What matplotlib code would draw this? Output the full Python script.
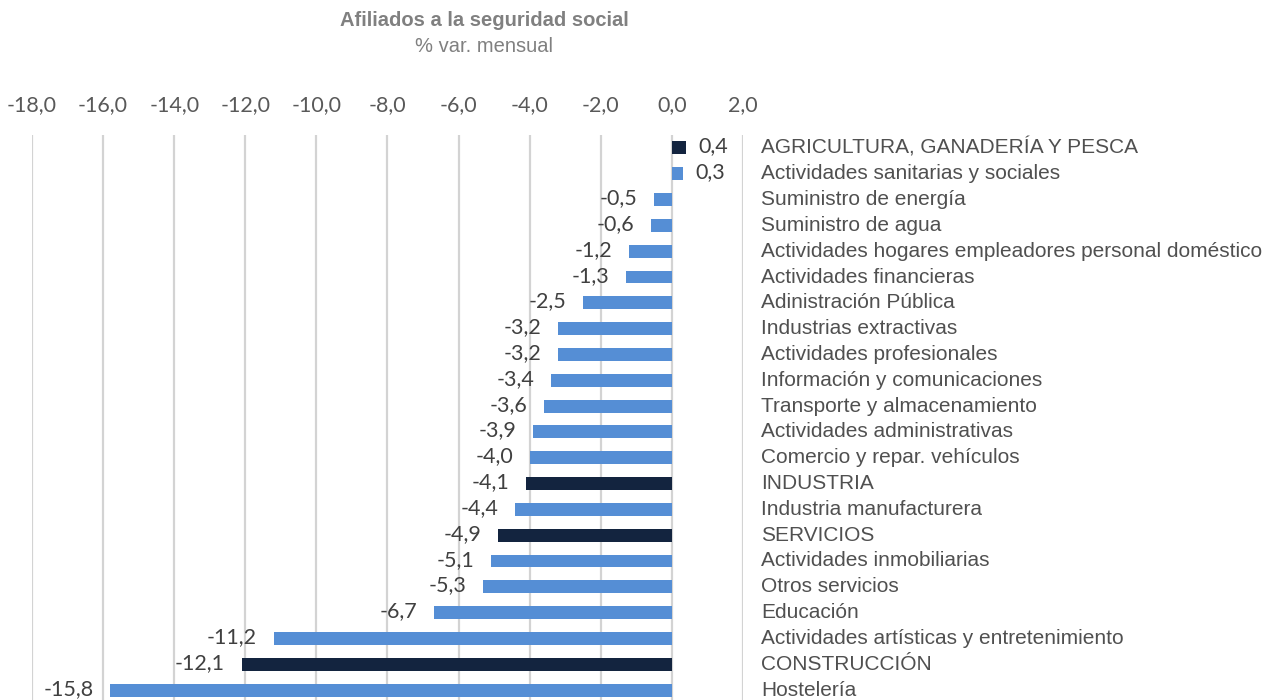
import matplotlib
matplotlib.use("Agg")
import matplotlib.pyplot as plt
import matplotlib.transforms as mtransforms

# Data, top to bottom as in the chart
categories = [
    "AGRICULTURA, GANADERÍA Y PESCA",
    "Actividades sanitarias y sociales",
    "Suministro de energía",
    "Suministro de agua",
    "Actividades hogares empleadores personal doméstico",
    "Actividades financieras",
    "Adinistración Pública",
    "Industrias extractivas",
    "Actividades profesionales",
    "Información y comunicaciones",
    "Transporte y almacenamiento",
    "Actividades administrativas",
    "Comercio y repar. vehículos",
    "INDUSTRIA",
    "Industria manufacturera",
    "SERVICIOS",
    "Actividades inmobiliarias",
    "Otros servicios",
    "Educación",
    "Actividades artísticas y entretenimiento",
    "CONSTRUCCIÓN",
    "Hostelería",
]
values = [0.4, 0.3, -0.5, -0.6, -1.2, -1.3, -2.5, -3.2, -3.2, -3.4, -3.6,
          -3.9, -4.0, -4.1, -4.4, -4.9, -5.1, -5.3, -6.7, -11.2, -12.1, -15.8]
sectors = ["AGRICULTURA, GANADERÍA Y PESCA", "INDUSTRIA", "SERVICIOS", "CONSTRUCCIÓN"]
xticks = [-18, -16, -14, -12, -10, -8, -6, -4, -2, 0, 2]

navy = "#13243f"
blue = "#558ed5"
num_font = "Lato"
txt_font = "Liberation Sans"

fig = plt.figure(figsize=(12.87, 7), dpi=100)
ax = fig.add_axes([32 / 1287, -3 / 700, 711 / 1287, 568 / 700])

ypos = list(range(len(categories)))
colors = [navy if c in sectors else blue for c in categories]
ax.barh(ypos, values, height=0.5, color=colors, zorder=3)

ax.set_xlim(-18, 2)
ax.set_ylim(len(categories) - 0.5, -0.5)
ax.set_xticks(xticks)
ax.set_xticklabels([f"{t:.1f}".replace(".", ",") for t in xticks],
                   fontfamily=num_font, fontsize=15.5, color="#595959")
ax.xaxis.tick_top()
ax.tick_params(axis="x", length=0, pad=14)
ax.set_yticks([])
ax.grid(axis="x", color="#d3d3d3", linewidth=1.6, zorder=0)
for s in ax.spines.values():
    s.set_visible(False)

# value labels
for y, v in zip(ypos, values):
    lab = f"{v:.1f}".replace(".", ",")
    if v < 0:
        ax.annotate(lab, (v, y), xytext=(-12, 1), textcoords="offset points",
                    ha="right", va="center", fontfamily=num_font,
                    fontsize=15.5, color="#404040", zorder=4)
    else:
        ax.annotate(lab, (v, y), xytext=(9, 1), textcoords="offset points",
                    ha="left", va="center", fontfamily=num_font,
                    fontsize=15.5, color="#404040", zorder=4)

# category labels to the right of the plot
trans = mtransforms.blended_transform_factory(ax.transAxes, ax.transData)
for y, c in zip(ypos, categories):
    ax.text(1 + 18 / 711, y, c, transform=trans, ha="left", va="center",
            fontfamily=txt_font, fontsize=15, color="#505050", clip_on=False)

fig.text(484 / 1287, 1 - 21 / 700, "Afiliados a la seguridad social",
         ha="center", va="center", fontfamily=txt_font, fontsize=14.5,
         fontweight="bold", color="#808080")
fig.text(484 / 1287, 1 - 46 / 700, "% var. mensual",
         ha="center", va="center", fontfamily=txt_font, fontsize=14.5,
         color="#808080")

fig.savefig("out.png", dpi=100)
